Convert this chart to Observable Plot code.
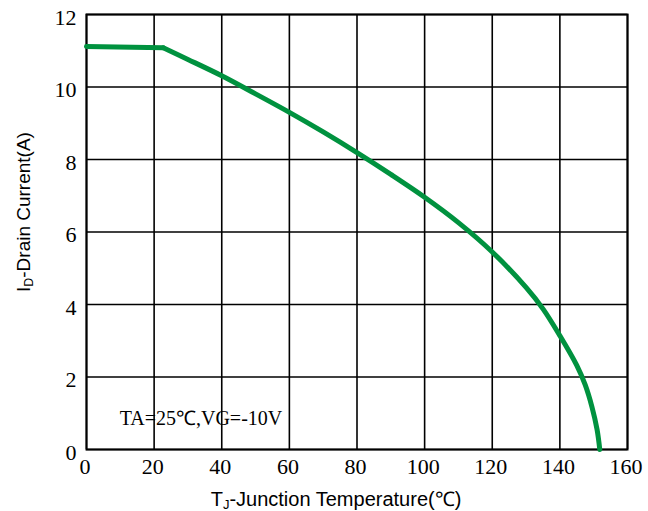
<!DOCTYPE html>
<html><head><meta charset="utf-8">
<script src="https://cdn.jsdelivr.net/npm/d3@7"></script>
<script src="https://cdn.jsdelivr.net/npm/@observablehq/plot@0.6"></script>
<style>body{margin:0;background:#fff}</style>
</head><body><div id="chart"></div>
<script>
// Junction temperature (°C) and drain current (A)
const tempC  = [0, 22.7, 30, 40, 50, 60, 70, 80, 90, 100, 110, 120, 130, 135, 140, 145, 147.5, 149.5, 151, 151.8];
const drainA = [11.12, 11.08, 10.76, 10.31, 9.81, 9.30, 8.76, 8.19, 7.59, 6.96, 6.26, 5.45, 4.47, 3.88, 3.14, 2.32, 1.78, 1.17, 0.55, 0];
const xTicks = [0, 20, 40, 60, 80, 100, 120, 140, 160];
const yTicks = [0, 2, 4, 6, 8, 10, 12];
const noteParts   = ["TA=25℃,V", "G", "=-10V"];
const xLabelParts = ["T", "J", "-Junction Temperature(℃)"];
const yLabelParts = ["I", "D", "-Drain Current(A)"];

const data = tempC.map((t, i) => ({t, a: drainA[i]}));
const flatPart = data.slice(0, 2);
const curvePart = data.slice(1);
const green = "#00923f";
const serif = "'Liberation Serif', 'Times New Roman', serif";
const sans = "'Liberation Sans', Arial, sans-serif";

const svg = Plot.plot({
  width: 648, height: 511,
  marginLeft: 86, marginRight: 21, marginTop: 14, marginBottom: 62,
  x: {domain: [0, 160]},
  y: {domain: [0, 12]},
  style: {background: "white", color: "black"},
  marks: [
    Plot.gridX(xTicks, {stroke: "black", strokeOpacity: 1, strokeWidth: 1.6}),
    Plot.gridY(yTicks, {stroke: "black", strokeOpacity: 1, strokeWidth: 1.6}),
    Plot.frame({stroke: "black", strokeWidth: 2}),
    Plot.axisX(xTicks, {tickSize: 0, tickPadding: 9, fontSize: 22, fontFamily: serif, label: null, dx: -1.5}),
    Plot.axisY(yTicks, {tickSize: 0, tickPadding: 10, fontSize: 22, fontFamily: serif, label: null, dy: 3}),
    Plot.line(flatPart, {x: "t", y: "a", stroke: green, strokeWidth: 5, strokeLinejoin: "round"}),
    Plot.line(curvePart, {x: "t", y: "a", curve: "catmull-rom", stroke: green, strokeWidth: 5, strokeLinejoin: "round"}),
    Plot.text([noteParts.join("")], {x: 9.8, y: 0.68, textAnchor: "start", lineAnchor: "bottom",
      fontSize: 20, fontFamily: serif, fill: "black", ariaLabel: "note"})
  ]
});

const s = d3.select(svg);
// subscript in annotation
const note = s.select("g[aria-label='note'] text");
note.text(null);
note.append("tspan").text(noteParts[0]);
note.append("tspan").attr("font-size", 12).attr("dy", 2).text(noteParts[1]);
note.append("tspan").attr("font-size", 20).attr("dy", -2).text(noteParts[2]);

function subLabel(parent, parts, size) {
  const t = parent.append("text").attr("text-anchor", "middle")
    .attr("font-family", sans).attr("font-size", size).attr("fill", "black");
  t.append("tspan").text(parts[0]);
  t.append("tspan").attr("font-size", size * 0.65).attr("dy", 3).text(parts[1]);
  t.append("tspan").attr("font-size", size).attr("dy", -3).text(parts[2]);
  return t;
}
subLabel(s.append("g").attr("transform", "translate(336,506)"), xLabelParts, 20);
subLabel(s.append("g").attr("transform", "translate(30,212) rotate(-90)"), yLabelParts, 19);

document.getElementById("chart").appendChild(svg);
</script>
</body></html>
